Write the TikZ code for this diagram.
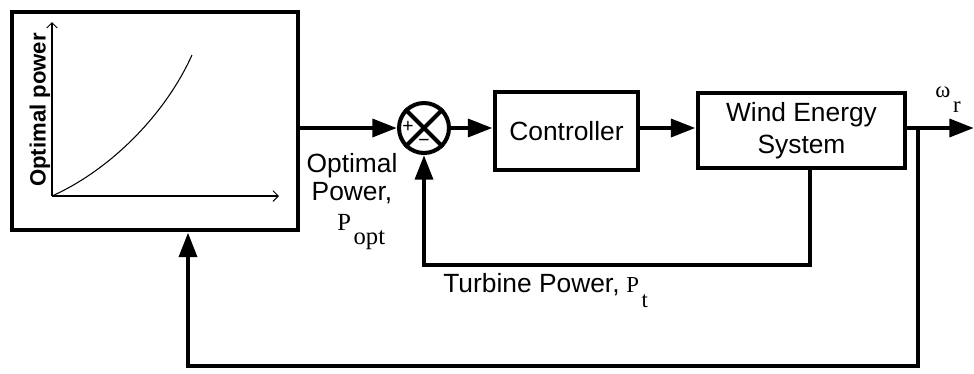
\documentclass[tikz,border=0pt]{standalone}
\usepackage{fontspec}
\setmainfont{Liberation Sans}
\newfontfamily\tmsfont{Liberation Serif}
\usetikzlibrary{arrows.meta}
\tikzset{
  block/.style={draw,line width=2.8pt,inner sep=0pt,align=center,font=\fontsize{15}{18.1}\selectfont},
  wire/.style={line width=2.6pt},
  sig/.style={wire,-{Triangle[length=14pt,width=10pt]}},
  axis/.style={line width=0.6pt,-{Straight Barb[length=3pt,width=6pt]}},
  lbl/.style={inner sep=0pt,align=center,font=\fontsize{15}{15.9}\selectfont},
}
% serif symbol with a lowered index: size, symbol, index, drop
\newcommand{\varsub}[4]{{\tmsfont\fontsize{#1}{#1}\selectfont #2\kern1.5pt\raisebox{-#4}{#3}}}

\begin{document}
\begin{tikzpicture}[x=0.02cm,y=-0.02cm,>=Latex]
  \useasboundingbox (0,0) rectangle (974,373);
  % optimal power curve block
  \node[block,minimum width=5.72cm,minimum height=4.36cm] (curvebox) at (155,121) {};
  \draw[axis] (52,196) -- (52,22);
  \draw[axis] (52,196) -- (279,196);
  \draw[line width=0.6pt] (52,196) .. controls (110,170) and (165,115) .. (192,55);
  \node[rotate=90,inner sep=0pt,font=\fontsize{12.6}{14}\selectfont\bfseries] (ylbl) at (40,110) {Optimal power};
  % summing junction
  \node[circle,draw,line width=2.3pt,inner sep=0pt,minimum size=1cm] (sum) at (424,128) {};
  \draw[line width=2.3pt] (sum.north west) -- (sum.south east) (sum.north east) -- (sum.south west);
  \node[inner sep=0pt,font=\fontsize{11}{11}\selectfont] (plus) at (408,127) {+};
  \node[inner sep=0pt,font=\fontsize{11}{11}\selectfont] (minus) at (424,143) {−};
  % blocks
  \node[block,minimum width=2.86cm,minimum height=1.56cm] (ctrl) at (566.5,131) {Controller};
  \node[block,minimum width=4.14cm,minimum height=1.5cm] (wes) at (801.5,130.5) {Wind Energy\\System};
  % forward path
  \draw[sig] (curvebox.east |- sum) -- (sum);
  \draw[sig] (sum) -- (sum -| ctrl.west);
  \draw[sig] (ctrl.east |- sum) -- (sum -| wes.west);
  \coordinate (branch) at (918,128);
  \coordinate (outend) at (974,128);
  \draw[sig] (wes.east |- branch) -- (outend);
  \node[inner sep=0pt,anchor=base west] (omega) at (935,97) {\varsub{13}{ω}{r}{9pt}};
  % turbine power feedback
  \coordinate (fbturn) at (810,265);
  \draw[sig] (fbturn |- wes.south) -- (fbturn) -| (sum);
  % speed feedback
  \coordinate (loopbr) at (918,366);
  \coordinate (loopbl) at (188,366);
  \draw[sig] (branch) -- (loopbr) -- (loopbl) -- (loopbl |- curvebox.south);
  % labels
  \node[lbl,anchor=north] (optlbl) at (352,153) {Optimal\\Power,};
  \node[inner sep=0pt,anchor=base west] (popt) at (337,230) {\varsub{14}{P}{opt}{8pt}};
  \node[lbl,anchor=base west] (tplbl) at (443,292) {Turbine Power,};
  \node[inner sep=0pt,anchor=base west] (ptlbl) at (626,292) {\varsub{13}{P}{t}{9pt}};
\end{tikzpicture}
\end{document}
